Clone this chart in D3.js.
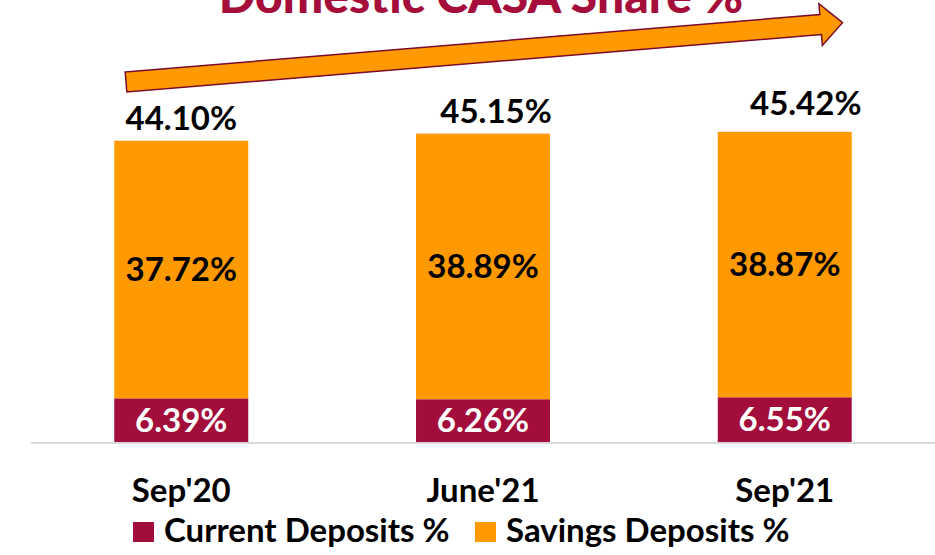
<!DOCTYPE html>
<html>
<head>
<meta charset="utf-8">
<script src="https://cdn.jsdelivr.net/npm/d3@7"></script>
<style>
  body { margin: 0; background: #fff; }
  svg { display: block; font-family: Lato, "Open Sans", sans-serif; font-weight: bold; }
</style>
</head>
<body>
<div id="chart"></div>
<script>
// data
const categories = ["Sep'20", "June'21", "Sep'21"];
const currentDeposits = [6.39, 6.26, 6.55];
const savingsDeposits = [37.72, 38.89, 38.87];
const casaTotals = ['44.10%', '45.15%', '45.42%'];
const seriesNames = ['Current Deposits %', 'Savings Deposits %'];
const title = 'Domestic CASA Share %';

// layout
const CONFIG = {
  width: 935,
  height: 555,
  baseline: 442,
  colors: { current: '#a30d3b', savings: '#ff9900', title: '#a50d3a', axis: '#d9d9d9' },
  totalNudge: [[0, -11], [13, -11], [21, -17]],
  fontSize: 33,
  labelSize: 33
};

const svg = d3.select('#chart').append('svg')
  .attr('width', CONFIG.width)
  .attr('height', CONFIG.height);

const x = d3.scaleBand()
  .domain(categories)
  .range([31, 935])
  .paddingInner(0.556)
  .paddingOuter(0.276);

const y = d3.scaleLinear()
  .domain([0, 50])
  .range([CONFIG.baseline, CONFIG.baseline - 50 * 6.83]);

const rows = categories.map((c, i) => ({
  cat: c, current: currentDeposits[i], savings: savingsDeposits[i], total: casaTotals[i], i
}));
const stacked = d3.stack().keys(['current', 'savings'])(rows);

// axis line
svg.append('line')
  .attr('x1', 31).attr('x2', 935)
  .attr('y1', CONFIG.baseline + 1).attr('y2', CONFIG.baseline + 1)
  .attr('stroke', CONFIG.colors.axis).attr('stroke-width', 2);

// bars
const layers = svg.selectAll('.layer').data(stacked).enter()
  .append('g').attr('class', 'layer')
  .attr('fill', (d) => CONFIG.colors[d.key]);

layers.selectAll('rect').data((d) => d).enter().append('rect')
  .attr('x', (d) => x(d.data.cat))
  .attr('width', x.bandwidth())
  .attr('y', (d) => y(d[1]))
  .attr('height', (d) => y(d[0]) - y(d[1]));

// segment labels
layers.selectAll('text').data((d) => d.map((v) => ({ key: d.key, v }))).enter()
  .append('text')
  .attr('x', (d) => x(d.v.data.cat) + x.bandwidth() / 2)
  .attr('y', (d) => (y(d.v[0]) + y(d.v[1])) / 2)
  .attr('dy', '0.35em')
  .attr('text-anchor', 'middle')
  .attr('font-size', CONFIG.fontSize)
  .attr('fill', (d) => d.key === 'current' ? '#fff' : '#000')
  .text((d) => d.v.data[d.key].toFixed(2) + '%');

// total labels
svg.selectAll('.total').data(rows).enter().append('text')
  .attr('class', 'total')
  .attr('x', (d) => x(d.cat) + x.bandwidth() / 2 + CONFIG.totalNudge[d.i][0])
  .attr('y', (d) => y(d.current + d.savings) + CONFIG.totalNudge[d.i][1])
  .attr('text-anchor', 'middle')
  .attr('font-size', CONFIG.fontSize)
  .attr('fill', '#000')
  .text((d) => d.total);

// category labels
svg.selectAll('.cat').data(categories).enter().append('text')
  .attr('class', 'cat')
  .attr('x', (d) => x(d) + x.bandwidth() / 2)
  .attr('y', 502)
  .attr('text-anchor', 'middle')
  .attr('font-size', CONFIG.labelSize)
  .attr('fill', '#000')
  .text((d) => d);

// legend
const legendX = [133, 475];
const legend = svg.selectAll('.legend').data(seriesNames).enter()
  .append('g').attr('class', 'legend')
  .attr('transform', (d, i) => `translate(${legendX[i]}, 522)`);
legend.append('rect')
  .attr('width', 21).attr('height', 20)
  .attr('fill', (d, i) => i === 0 ? CONFIG.colors.current : CONFIG.colors.savings);
legend.append('text')
  .attr('x', 31).attr('y', 20)
  .attr('font-size', CONFIG.labelSize)
  .attr('fill', '#000')
  .text((d) => d);

// trend arrow
const start = [126, 82];
const angle = Math.atan2(-57.5, 694.5);
const shaftLen = 697, halfW = 10, headHalf = 21, headLen = 22;
const arrowPts = [
  [0, -halfW], [shaftLen, -halfW], [shaftLen, -headHalf], [shaftLen + headLen, 0],
  [shaftLen, headHalf], [shaftLen, halfW], [0, halfW]
];
svg.append('path')
  .attr('d', d3.line()(arrowPts) + 'Z')
  .attr('transform', `translate(${start[0]}, ${start[1]}) rotate(${angle * 180 / Math.PI})`)
  .attr('fill', CONFIG.colors.savings)
  .attr('stroke', '#7a0b2c')
  .attr('stroke-width', 1.5)
  .attr('stroke-linejoin', 'miter');

// title (runs off the top edge, as in the source slide)
svg.append('text')
  .attr('x', 481).attr('y', 13)
  .attr('text-anchor', 'middle')
  .attr('font-size', 48)
  .attr('font-weight', 900)
  .attr('fill', CONFIG.colors.title)
  .text(title);
</script>
</body>
</html>
